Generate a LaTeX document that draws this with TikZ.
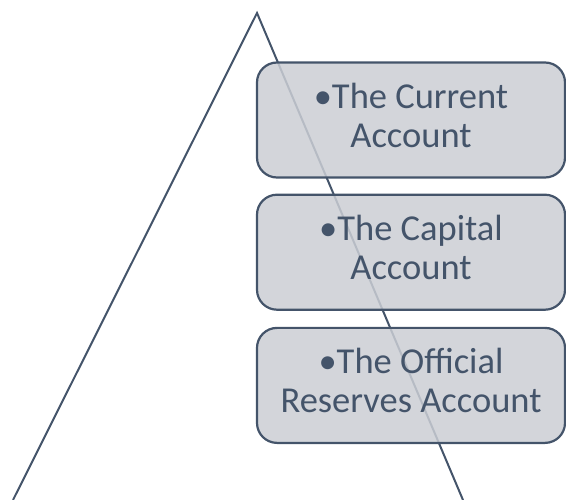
\documentclass[tikz,border=0pt]{standalone}
\usepackage{fontspec}
\setmainfont{Carlito}
\usetikzlibrary{positioning}
\definecolor{slate}{RGB}{68,84,106}
\definecolor{boxgray}{RGB}{203,206,212}
\tikzstyle{acct}=[draw=slate,line width=2.2pt,fill=boxgray,fill opacity=.85,text opacity=1,
  rounded corners=20pt,minimum width=308pt,minimum height=115pt,align=center,text=slate,
  text depth=10pt,font=\fontsize{36.5}{39}\selectfont]

\begin{document}
\begin{tikzpicture}[x=1pt,y=-1pt]
\useasboundingbox (0,0) rectangle (566,500);
% triangle
\coordinate (top) at (257,13);
\coordinate (bl) at (13,500);
\coordinate (br) at (463,500);
\draw[slate,line width=2pt] (bl) -- (top) -- (br);
% accounts
\node (cur) [acct] at (411,120) {\textbullet The Current\\Account};
\node (cap) [acct,below=15pt of cur] {\textbullet The Capital\\Account};
\node (res) [acct,below=16pt of cap] {\textbullet The Official\\Reserves Account};
\end{tikzpicture}
\end{document}
